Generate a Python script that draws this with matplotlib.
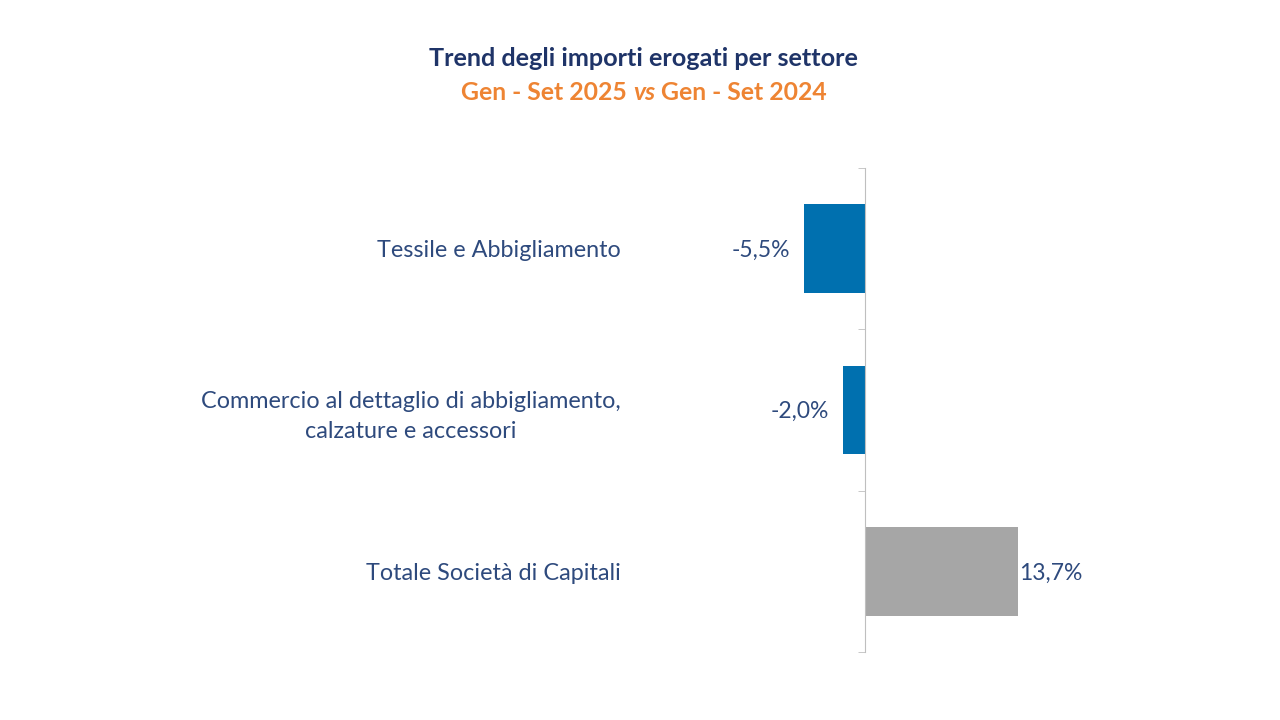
import matplotlib.pyplot as plt
from matplotlib.ticker import FixedLocator

plt.rcParams["font.family"] = ["Lato", "DejaVu Sans"]

categories = ["Tessile e Abbigliamento",
              "Commercio al dettaglio di abbigliamento,\ncalzature e accessori",
              "Totale Società di Capitali"]
values = [-5.5, -2.0, 13.7]
value_labels = ["-5,5%", "-2,0%", "13,7%"]
colors = ["#0070AF", "#0070AF", "#A6A6A6"]

text_col = "#2E4A7D"
fig = plt.figure(figsize=(12.8, 7.2), dpi=100)
ax = fig.add_axes([775.8 / 1280, 1 - 652 / 720, 301 / 1280, 484 / 720])

ypos = list(range(len(categories)))
ax.barh(ypos, values, height=0.55, color=colors)
ax.set_xlim(-8, 19)
ax.set_ylim(2.5, -0.5)

for y, v, lab in zip(ypos, values, value_labels):
    if v < 0:
        ax.text(v - 1.25, y + 0.01, lab, ha="right", va="center", fontsize=16.5, color=text_col)
    else:
        ax.text(v + 0.15, y + 0.01, lab, ha="left", va="center", fontsize=16.5, color=text_col)

for s in ["top", "right", "bottom"]:
    ax.spines[s].set_visible(False)
ax.spines["left"].set_position(("data", 0))
ax.spines["left"].set_color("#BFBFBF")
ax.set_xticks([])
ax.set_yticks(ypos)
ax.set_yticklabels(categories, fontsize=16.8, color=text_col, multialignment="center",
                   linespacing=1.5)
ax.tick_params(axis="y", which="major", length=0, pad=176)
ax.yaxis.set_minor_locator(FixedLocator([-0.5, 0.5, 1.5, 2.5]))
ax.tick_params(axis="y", which="minor", length=5, color="#BFBFBF", direction="out")

fig.text(0.5025, 1 - 58 / 720, "Trend degli importi erogati per settore",
         ha="center", va="center", fontsize=18.2, fontweight="bold", color="#1F3468")

# subtitle with italic "vs"
orange = "#EE8433"
parts = [("Gen - Set 2025 ", "normal"), ("vs", "italic"), (" Gen - Set 2024", "normal")]
fig.canvas.draw()
r = fig.canvas.get_renderer()
objs = []
for txt, st in parts:
    t = fig.text(0, 1 - 92 / 720, txt, ha="left", va="center", fontsize=17.8,
                 fontweight="bold", fontstyle=st, color=orange)
    objs.append(t)
widths = [t.get_window_extent(r).width for t in objs]
x = 644 - sum(widths) / 2
for t, w in zip(objs, widths):
    t.set_x(x / 1280)
    x += w

fig.savefig("out.png", dpi=100, facecolor="white")
